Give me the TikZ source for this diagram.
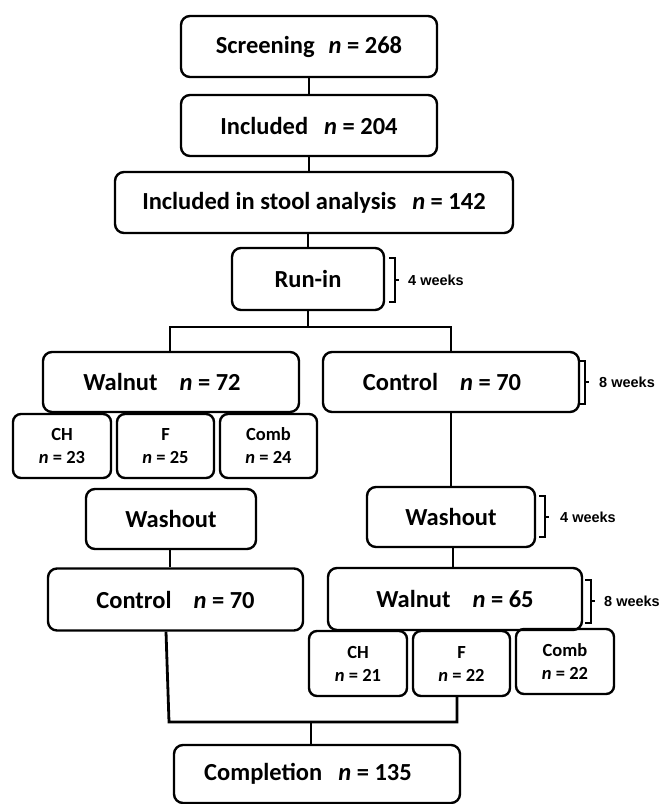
\documentclass[tikz,border=0pt]{standalone}
\usepackage{fontspec}
\setmainfont{Carlito}
\newfontfamily\weekfont{Liberation Sans}
\usepackage{tikz}

\newcommand{\ncount}[1]{\textit{n} = #1}

\tikzset{
  box/.style={draw, line width=2.4pt, rounded corners=9pt, inner sep=0pt, align=center,
    font=\fontsize{24.5}{28}\selectfont\bfseries},
  subbox/.style={draw, line width=2.4pt, rounded corners=8pt, inner sep=0pt, align=center,
    minimum height=64pt, font=\fontsize{18.5}{23}\selectfont\bfseries},
  link/.style={line width=2.8pt},
  bracket/.style={line width=2.4pt},
  weeks/.style={anchor=west, inner sep=0pt, font=\weekfont\fontsize{14.5}{16}\selectfont\bfseries},
}

\begin{document}
\begin{tikzpicture}[x=1pt, y=-1pt]
        % Define Variables
        \def\splitY{327}
        \def\mergeY{722}
        \useasboundingbox (0,0) rectangle (665,804);

        % Enrolment
        \node[box, minimum width=256pt, minimum height=61pt] (screen) at (309,46.5) {Screening\hspace{14pt}\ncount{268}};
        \node[box, minimum width=256pt, minimum height=61pt] (incl) at (309,125.5) {Included\hspace{16pt}\ncount{204}};
        \node[box, minimum width=398pt, minimum height=61pt] (stool) at (314,202.5) {Included in stool analysis\hspace{16pt}\ncount{142}};
        \node[box, minimum width=152pt, minimum height=62pt] (runin) at (308,279) {Run-in};
        \draw[link] (screen.south) -- (incl.north);
        \draw[link] (incl.south) -- (incl.south |- stool.north);
        \draw[link] (runin.north |- stool.south) -- (runin.north);

        % First Period
        \node[box, minimum width=256pt, minimum height=60pt] (walA) at (171,382) {Walnut\hspace{22pt}\ncount{72}\hspace{18pt}};
        \node[box, minimum width=256pt, minimum height=60pt] (conA) at (451,382) {Control\hspace{22pt}\ncount{70}\hspace{18pt}};
        \node[subbox, minimum width=98pt] (chA) at (62,446) {CH\\\ncount{23}};
        \node[subbox, minimum width=97pt] (fA) at (165.5,446) {F\\\ncount{25}};
        \node[subbox, minimum width=97pt] (combA) at (268.5,446) {Comb\\\ncount{24}};
        \draw[link] (runin.south) -- (runin.south |- 0,\splitY);
        \draw[link] (walA.north -| 170,0) -- (170,\splitY) -- (conA.north |- 0,\splitY) -- (conA.north);

        % Washout
        \node[box, minimum width=170pt, minimum height=60pt] (washA) at (171,519) {Washout};
        \node[box, minimum width=168pt, minimum height=60pt] (washB) at (451,517) {Washout};
        \draw[link] (washA.north -| 170,0 |- fA.south) -- (washA.north -| 170,0);
        \draw[link] (conA.south) -- (washB.north);

        % Second Period
        \node[box, minimum width=255pt, minimum height=62pt] (conB) at (175.5,599.5) {Control\hspace{22pt}\ncount{70}};
        \node[box, minimum width=254pt, minimum height=62pt] (walB) at (455,599) {Walnut\hspace{22pt}\ncount{65}};
        \node[subbox, minimum width=98pt, minimum height=65pt] (chB) at (358,663.5) {CH\\\ncount{21}};
        \node[subbox, minimum width=97pt, minimum height=65pt] (fB) at (461.5,663.5) {F\\\ncount{22}};
        \node[subbox, minimum width=98pt, minimum height=65pt] (combB) at (565,661.5) {Comb\\\ncount{22}};
        \draw[link] (washA.south -| 170,0) -- (conB.north -| 170,0);
        \draw[link] (washB.south -| 453,0) -- (walB.north -| 453,0);

        % Completion
        \node[box, minimum width=286pt, minimum height=58pt] (comp) at (317,774) {Completion\hspace{16pt}\ncount{135}\hspace{18pt}};
        \coordinate (mergeL) at (169,\mergeY);
        \coordinate (mergeR) at (457,\mergeY);
        \coordinate (mergeC) at (311,\mergeY);
        \draw[link] (conB.south -| 166,0) -- (mergeL) -- (mergeR) -- (mergeR |- fB.south);
        \draw[link] (mergeC) -- (mergeC |- comp.north);

        % Durations
        \draw[bracket] (389,258) -- (395,258) -- (395,302) -- (389,302) (395,280) -- (399,280);
        \node[weeks] (runinweeks) at (408,280) {4 weeks};
        \draw[bracket] (579,361) -- (585,361) -- (585,404) -- (579,404) (585,382) -- (589,382);
        \node[weeks] (firstweeks) at (599,382) {8 weeks};
        \draw[bracket] (539,496) -- (545,496) -- (545,537) -- (539,537) (545,517) -- (549,517);
        \node[weeks] (washweeks) at (560,517) {4 weeks};
        \draw[bracket] (585,580) -- (591,580) -- (591,623) -- (585,623) (591,601) -- (595,601);
        \node[weeks] (secondweeks) at (604,601) {8 weeks};
\end{tikzpicture}
\end{document}
